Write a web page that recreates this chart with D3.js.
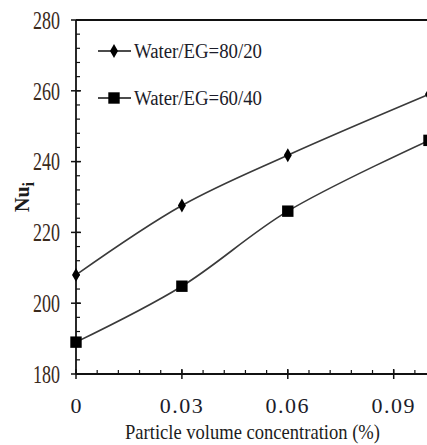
<!DOCTYPE html>
<html>
<head>
<meta charset="utf-8">
<script src="https://cdn.jsdelivr.net/npm/d3@7"></script>
<style>
  body { margin: 0; background: #fff; }
  svg { display: block; font-family: "Liberation Serif", "Times New Roman", serif; }
</style>
</head>
<body>
<div id="chart"></div>
<script>
// data
const conc = [0, 0.03, 0.06, 0.1];
const nu8020 = [208, 227.6, 241.8, 259];
const nu6040 = [189, 204.8, 226, 246];
const seriesNames = ["Water/EG=80/20", "Water/EG=60/40"];
const xTicks = [0, 0.03, 0.06, 0.09];
const yTicks = [180, 200, 220, 240, 260, 280];

const W = 427, H = 445;
const margin = { top: 20, right: -2, bottom: 71, left: 76 };
const width = W - margin.left - margin.right;
const height = H - margin.top - margin.bottom;

const svg = d3.select("#chart").append("svg")
  .attr("width", W).attr("height", H);

const g = svg.append("g").attr("transform", `translate(${margin.left},${margin.top})`);

const x = d3.scaleLinear().domain([0, 0.1]).range([0, width]);
const y = d3.scaleLinear().domain([180, 280]).range([height, 0]);

// frame top line
g.append("line")
  .attr("x1", 0).attr("x2", W).attr("y1", 0).attr("y2", 0)
  .attr("stroke", "#111").attr("stroke-width", 1.8);

// minor ticks (inside)
const yMinor = d3.range(180, 281, 4);
g.selectAll(".ymin").data(yMinor).enter().append("line")
  .attr("x1", 0).attr("x2", 4)
  .attr("y1", d => y(d)).attr("y2", d => y(d))
  .attr("stroke", "#111").attr("stroke-width", 1.2);
const xMinor = d3.range(0, 0.1001, 0.006);
g.selectAll(".xmin").data(xMinor).enter().append("line")
  .attr("x1", d => x(d)).attr("x2", d => x(d))
  .attr("y1", height).attr("y2", height - 4)
  .attr("stroke", "#111").attr("stroke-width", 1.2);

// major ticks cross the axis
g.selectAll(".ymaj").data(yTicks).enter().append("line")
  .attr("x1", -5).attr("x2", 5)
  .attr("y1", d => y(d)).attr("y2", d => y(d))
  .attr("stroke", "#111").attr("stroke-width", 1.5);
g.selectAll(".xmaj").data(xTicks).enter().append("line")
  .attr("x1", d => x(d)).attr("x2", d => x(d))
  .attr("y1", height - 5).attr("y2", height + 5)
  .attr("stroke", "#111").attr("stroke-width", 1.5);

// axis lines
g.append("line").attr("x1", 0).attr("x2", 0).attr("y1", 0).attr("y2", height)
  .attr("stroke", "#111").attr("stroke-width", 1.8);
g.append("line").attr("x1", 0).attr("x2", W).attr("y1", height).attr("y2", height)
  .attr("stroke", "#111").attr("stroke-width", 1.8);

// tick labels
g.selectAll(".ylab").data(yTicks).enter().append("text")
  .attr("transform", d => `translate(-16,${y(d)}) scale(0.72,1)`)
  .attr("text-anchor", "end").attr("dy", "0.35em")
  .attr("font-size", 25).attr("fill", "#3b2a1c")
  .text(d => d);
g.selectAll(".xlab").data(xTicks).enter().append("text")
  .attr("x", d => x(d)).attr("y", height + 31)
  .attr("text-anchor", "middle").attr("dy", "0.35em")
  .attr("font-size", 22).attr("letter-spacing", d => d === 0 ? 0 : 1.5)
  .attr("fill", "#1c1c2a")
  .text(d => d === 0 ? "0" : d.toFixed(2));

// axis titles
g.append("text")
  .attr("x", 125 - margin.left).attr("y", 439 - margin.top)
  .attr("font-size", 22).attr("fill", "#1c1c1c")
  .attr("textLength", 255).attr("lengthAdjust", "spacingAndGlyphs")
  .text("Particle volume  concentration (%)");

const yt = svg.append("text")
  .attr("transform", "translate(29,197) rotate(-90)")
  .attr("text-anchor", "middle")
  .attr("font-size", 20).attr("font-weight", "bold").attr("fill", "#1c1c1c");
yt.append("tspan").text("Nu");
yt.append("tspan").attr("dy", 5).attr("font-size", 16).text("i");

// series
const line = d3.line()
  .x((d, i) => x(conc[i]))
  .y(d => y(d))
  .curve(d3.curveCatmullRom.alpha(0.5));

const diamond = d3.symbol().type(d3.symbolDiamond).size(55);
const square = d3.symbol().type(d3.symbolSquare).size(130);

[nu8020, nu6040].forEach((vals, k) => {
  g.append("path").datum(vals)
    .attr("d", line)
    .attr("fill", "none").attr("stroke", "#3a3a3a").attr("stroke-width", 1.6);
  g.selectAll(".m" + k).data(vals).enter().append("path")
    .attr("transform", (d, i) => `translate(${x(conc[i])},${y(d)})`)
    .attr("d", k === 0 ? diamond() : square())
    .attr("fill", "#000");
});

// legend
seriesNames.forEach((name, k) => {
  const ly = 51 + k * 47;
  const lg = svg.append("g");
  lg.append("line").attr("x1", 98).attr("x2", 131).attr("y1", ly).attr("y2", ly)
    .attr("stroke", "#111").attr("stroke-width", 1.6);
  lg.append("path")
    .attr("transform", `translate(114,${ly})`)
    .attr("d", k === 0 ? diamond() : square())
    .attr("fill", "#000");
  lg.append("text")
    .attr("x", 134).attr("y", ly + 7)
    .attr("font-size", 20).attr("fill", "#1c1c2a")
    .attr("textLength", 128).attr("lengthAdjust", "spacingAndGlyphs")
    .text(name);
});
</script>
</body>
</html>
